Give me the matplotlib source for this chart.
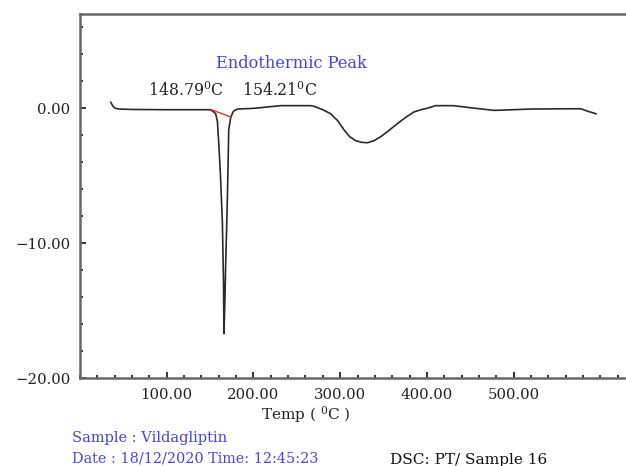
import matplotlib
matplotlib.use("Agg")
import matplotlib.pyplot as plt
from matplotlib.ticker import FixedLocator, MultipleLocator, FuncFormatter

# ---- data ----
temp = [35.5, 38, 41, 45, 60, 100, 140, 150, 153, 156.5, 158.5, 160.3, 162, 164.2,
        165.5, 166, 167, 168, 170, 171.5, 173.8, 177, 181.5, 200, 231.5, 250, 266,
        270, 280, 289, 297, 304.5, 311, 318, 325, 331.5, 339, 346.8, 356, 366, 376,
        385, 393, 400, 410, 431, 450, 477.5, 520, 560, 577.5, 585, 595]
heat_flow = [0.45, 0.15, 0.0, -0.05, -0.08, -0.1, -0.1, -0.1, -0.2, -0.4, -1.0, -2.9,
             -5.0, -8.5, -13.0, -16.7, -14.5, -11.5, -6.6, -1.6, -0.67, -0.2, -0.05,
             0.0, 0.2, 0.2, 0.2, 0.15, -0.1, -0.4, -0.9, -1.6, -2.1, -2.4, -2.52,
             -2.55, -2.4, -2.1, -1.65, -1.13, -0.65, -0.27, -0.1, 0.0, 0.2, 0.2, 0.05,
             -0.15, -0.05, -0.03, -0.03, -0.2, -0.4]
onset_temp = [151.6, 173.8]
onset_val = [-0.1, -0.64]
x_major = [100, 200, 300, 400, 500]
y_major = [-20, -10, 0]

TXT = "#222222"
BLUE = "#4646d8"
plt.rcParams['font.family'] = ['DejaVu Serif']
plt.rcParams['mathtext.fontset'] = 'dejavuserif'

fig = plt.figure(figsize=(6.26, 4.66), dpi=100)
ax = fig.add_axes([80 / 626, 1 - 378 / 466, 555 / 626, (378 - 14) / 466])

ax.plot(temp, heat_flow, color="#2a2a2a", lw=1.2)
ax.plot(onset_temp, onset_val, color="#e03030", lw=1.0)

ax.set_xlim(0, 640)
ax.set_ylim(-20, 7)

ax.xaxis.set_major_locator(FixedLocator(x_major))
ax.xaxis.set_minor_locator(MultipleLocator(20))
ax.yaxis.set_major_locator(FixedLocator(y_major))
ax.yaxis.set_minor_locator(MultipleLocator(2))
fmt = FuncFormatter(lambda v, p: ("\u2212" if v < 0 else "") + f"{abs(v):.2f}")
ax.xaxis.set_major_formatter(fmt)
ax.yaxis.set_major_formatter(fmt)

ax.tick_params(which="major", direction="in", length=4, width=1.3, color="#222222",
               labelsize=10.7, labelcolor=TXT, pad=7)
ax.tick_params(which="minor", direction="in", length=2, width=1.3, color="#222222")
ax.tick_params(axis="both", which="both", top=False, right=False)

for s in ["left", "bottom", "top"]:
    ax.spines[s].set_color("#666666")
    ax.spines[s].set_linewidth(1.8)
ax.spines["right"].set_visible(False)

ax.text(244, 3.33, "Endothermic Peak", color=BLUE, fontsize=11.7, ha="center", va="center")
ax.text(78, 1.33, "148.79$^{0}$C", color=TXT, fontsize=11.3, ha="left", va="center")
ax.text(186.5, 1.33, "154.21$^{0}$C", color=TXT, fontsize=11.3, ha="left", va="center")

fig.text(306 / 626, 1 - 415 / 466, "Temp ( $^{0}$C )", color=TXT, fontsize=11.0,
         ha="center", va="center")
fig.text(72 / 626, 1 - 438 / 466, "Sample : Vildagliptin", color=BLUE, fontsize=10.5,
         ha="left", va="center")
fig.text(72 / 626, 1 - 458 / 466, "Date : 18/12/2020 Time: 12:45:23", color=BLUE,
         fontsize=10.4, ha="left", va="center")
fig.text(390 / 626, 1 - 460 / 466, "DSC: PT/ Sample 16", color="#111111", fontsize=11.1,
         ha="left", va="center")

fig.savefig("out.png", dpi=100)
